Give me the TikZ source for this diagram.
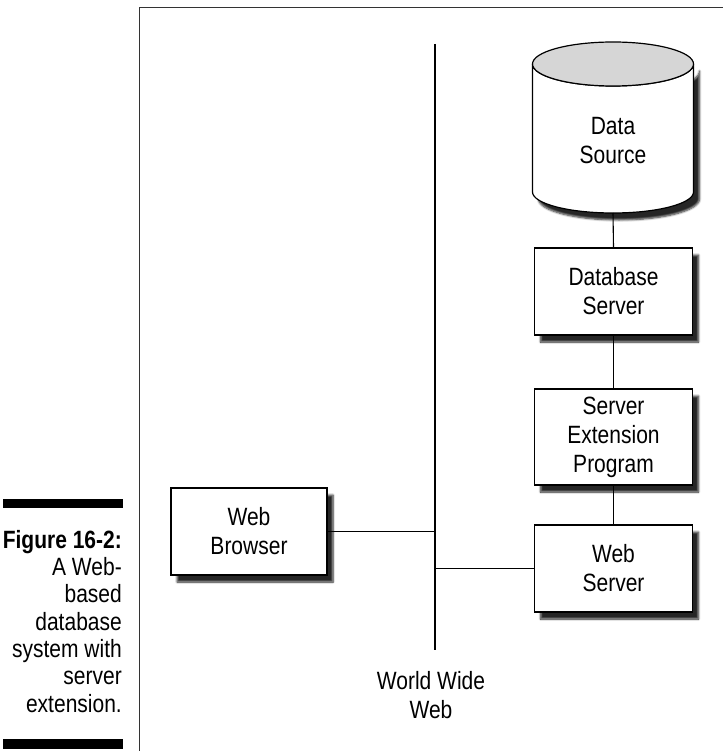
\documentclass[tikz,border=0pt]{standalone}
\usepackage{fontspec}
\setmainfont[FakeStretch=0.84]{Liberation Sans}
\usetikzlibrary{shadows.blur}
\begin{document}
\begin{tikzpicture}[x=1pt,y=-1pt]
\useasboundingbox (0,0) rectangle (723,751);
\tikzset{
  boxnode/.style={draw=black, fill=white, line width=1.2pt, minimum width=158pt, minimum height=87pt,
    align=center, inner sep=0pt, font=\fontsize{25}{29}\selectfont,
    blur shadow={shadow xshift=6pt, shadow yshift=-7pt, shadow blur radius=2pt, shadow blur steps=6, shadow opacity=85}},
  conn/.style={line width=1.1pt, black},
  frameline/.style={line width=1.4pt, black!80},
  capbar/.style={fill=black},
  plaintext/.style={align=center, inner sep=0pt, font=\fontsize{25}{29}\selectfont}
}
% frame
\coordinate (fbl) at (139.5,751);
\coordinate (ftl) at (139.5,7.5);
\coordinate (ftr) at (723,7.5);
\draw[frameline] (fbl) -- (ftl) -- (ftr);

% caption
\fill[capbar] (3,499) rectangle (123,508);
\fill[capbar] (3,739) rectangle (123,749);
\node[anchor=north east, align=right, inner sep=0pt, font=\fontsize{25}{27.3}\selectfont] (cap) at (122,530)
  {\textbf{Figure 16-2:}\\A Web-\\based\\database\\system with\\server\\extension.};

% cylinder
\path[draw=black, line width=1.2pt, fill=white,
  blur shadow={shadow xshift=6pt, shadow yshift=-7pt, shadow blur radius=2pt, shadow blur steps=6, shadow opacity=85}]
  (532.5,64) -- (532.5,192) arc (180:0:80.5 and 21) -- (693.5,64) arc (0:180:80.5 and 22) -- cycle;
\draw[line width=1.2pt, fill=black!16] (613,64) ellipse (80.5 and 22);
\node[plaintext] (ds) at (613,141) {Data\\Source};
\coordinate (dsb) at (613,213);

% boxes
\node[boxnode] (dbs) at (613.5,291.5) {Database\\Server};
\node[boxnode, minimum height=96pt] (sep) at (613.5,437) {Server\\Extension\\Program};
\node[boxnode] (ws) at (613.5,568.5) {Web\\Server};
\node[boxnode, minimum width=156pt] (wb) at (249,531.5) {Web\\Browser};

% web line
\coordinate (wtop) at (435,44);
\coordinate (wbot) at (435,650);
\draw[conn] (wtop) -- (wbot);
\node[plaintext] (www) at (431,695) {World Wide\\Web};

% connectors
\draw[conn] (dsb) -- (dbs.north);
\draw[conn] (dbs.south) -- (sep.north);
\draw[conn] (sep.south) -- (ws.north);
\draw[conn] (ws.west) -- (ws.west -| wtop);
\draw[conn] (wb.east) -- (wb.east -| wtop);
\end{tikzpicture}
\end{document}
